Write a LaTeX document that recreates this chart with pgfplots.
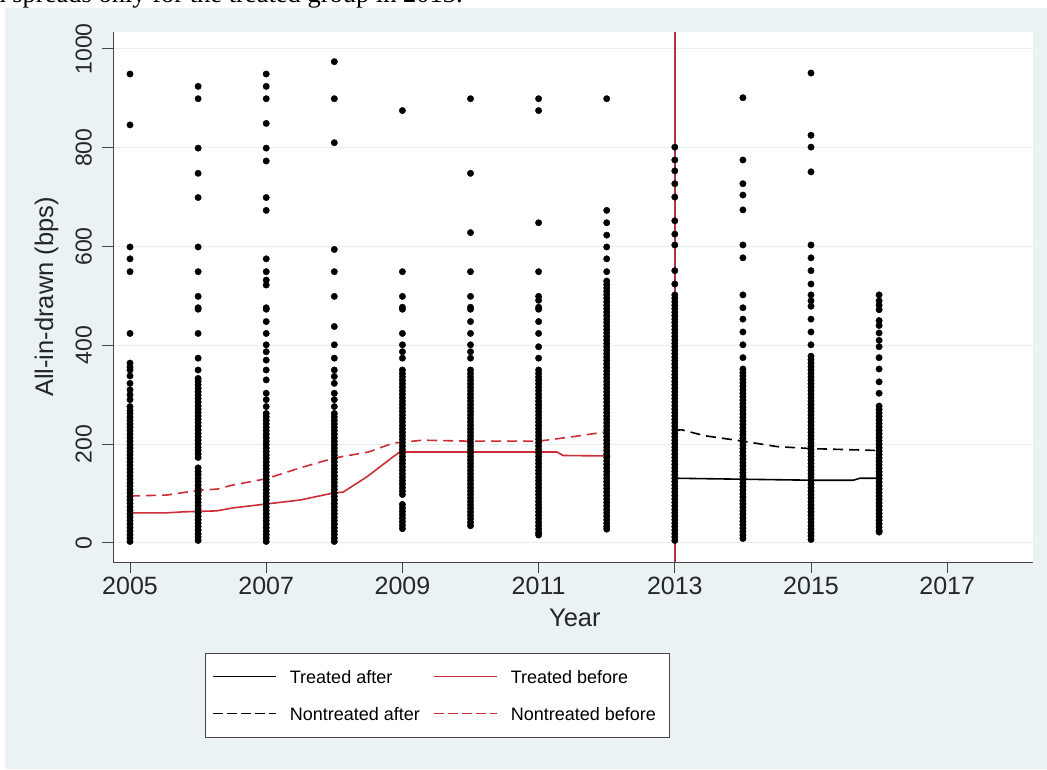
\documentclass[border=0pt]{standalone}
\usepackage{pgfplots}
\pgfplotsset{compat=1.18}
\usepackage{fontspec}
\setmainfont{Liberation Sans}
\newfontfamily\capserif{Liberation Serif}
\definecolor{bgc}{RGB}{234,242,243}
\definecolor{gridc}{RGB}{230,238,239}
\definecolor{redl}{RGB}{205,45,55}
\definecolor{vline}{RGB}{180,50,70}
\definecolor{axc}{RGB}{70,70,70}
\pgfplotsset{dots/.style={only marks, mark=*, mark size=3.2pt, color=black, mark options={draw=none, fill=black}, forget plot}}
\begin{document}
\begin{tikzpicture}
\useasboundingbox (0pt,0pt) rectangle (1047pt,769pt);
\fill[white] (0pt,0pt) rectangle (1047pt,769pt);
\fill[bgc] (5pt,0pt) rectangle (1047pt,761pt);
\begin{scope}
\clip (0pt,0pt) rectangle (1047pt,769pt);
\node[anchor=base east, font=\capserif\fontsize{26.5}{30}\selectfont, inner sep=0pt] at (463pt,766.5pt) {loan spreads only for the treated group in 2013.};
\end{scope}
\begin{axis}[
  at={(113pt,207pt)}, anchor=south west, scale only axis,
  width=920pt, height=530pt,
  xmin=2004.75, xmax=2018.26, ymin=-38.5, ymax=1034,
  axis lines*=left, axis line style={-, line width=1pt, axc},
  axis background/.style={fill=white},
  xtick={2005,2007,2009,2011,2013,2015,2017},
  ytick={0,200,400,600,800,1000},
  ymajorgrids, grid style={gridc, line width=1pt},
  tick align=outside, major tick length=11pt,
  tick style={axc, line width=1pt},
  /pgf/number format/1000 sep={},
  /pgf/number format/assume math mode=true,
  xticklabel style={font=\fontsize{25}{25}\selectfont, inner sep=4pt, text=black!85},
  yticklabel style={font=\fontsize{23}{23}\selectfont, rotate=90, anchor=south, inner xsep=0pt, inner ysep=10pt, text=black!85},
  label style={font=\fontsize{25.5}{25.5}\selectfont, text=black!85},
  xlabel={Year},
  xlabel style={at={(axis description cs:0.502,-0.1226)}, anchor=base},
  ylabel={All-in-drawn (bps)},
  ylabel style={at={(axis description cs:-0.0652,0.5)}, anchor=base},
  legend columns=2,
  legend cell align=left,
  legend style={at={(axis description cs:0.3527,-0.251)}, anchor=center,
    draw=axc, line width=0.9pt, fill=white,
    font=\fontsize{18}{18}\selectfont,
    inner xsep=7pt, inner ysep=17pt,
    nodes={inner xsep=6.5pt, inner ysep=0pt, text height=13pt, text depth=0pt},
    /tikz/every odd column/.append style={column sep=6.5pt},
    /tikz/every even column/.append style={column sep=7pt},
    row sep=24pt},
  legend image code/.code={\draw[#1] (0pt,0pt) -- (63pt,0pt);},
]
\addlegendimage{black, line width=1.3pt}
\addlegendentry{Treated after}
\addlegendimage{redl, line width=1.3pt}
\addlegendentry{Treated before}
\addlegendimage{black, line width=1.3pt, dash pattern=on 9.5pt off 4.5pt}
\addlegendentry{Nontreated after}
\addlegendimage{redl, line width=1.3pt, dash pattern=on 9.5pt off 4.5pt}
\addlegendentry{Nontreated before}

\addplot[vline, line width=1.4pt, forget plot] coordinates {(2013,-38.5) (2013,1034)};

% 2005
\addplot[dots] coordinates {(2005,949)(2005,846)(2005,599)(2005,575)(2005,549)(2005,424)(2005,364)(2005,356)(2005,350)(2005,338)(2005,323)(2005,310)(2005,300)(2005,290)(2005,276)(2005,268)(2005,262)(2005,255)(2005,248)(2005,241)(2005,234)(2005,227)(2005,220)(2005,213)(2005,206)(2005,199)(2005,192)(2005,185)(2005,178)(2005,171)(2005,164)(2005,157)(2005,150)(2005,143)(2005,136)(2005,129)(2005,122)(2005,115)(2005,108)(2005,101)(2005,94)(2005,87)(2005,80)(2005,73)(2005,66)(2005,59)(2005,52)(2005,45)(2005,38)(2005,31)(2005,24)(2005,17)(2005,10)(2005,3)};
% 2006
\addplot[dots] coordinates {(2006,924)(2006,899)(2006,799)(2006,748)(2006,699)(2006,599)(2006,549)(2006,499)(2006,476)(2006,473)(2006,424)(2006,374)(2006,350)(2006,333)(2006,327)(2006,320)(2006,313)(2006,306)(2006,299)(2006,292)(2006,285)(2006,278)(2006,271)(2006,264)(2006,257)(2006,250)(2006,243)(2006,236)(2006,229)(2006,222)(2006,215)(2006,208)(2006,201)(2006,194)(2006,187)(2006,180)(2006,173)(2006,152)(2006,145)(2006,138)(2006,131)(2006,124)(2006,117)(2006,110)(2006,103)(2006,96)(2006,89)(2006,82)(2006,75)(2006,68)(2006,61)(2006,54)(2006,47)(2006,40)(2006,33)(2006,26)(2006,19)(2006,12)(2006,5)};
% 2007
\addplot[dots] coordinates {(2007,949)(2007,924)(2007,899)(2007,849)(2007,799)(2007,773)(2007,699)(2007,673)(2007,575)(2007,549)(2007,532)(2007,522)(2007,476)(2007,473)(2007,448)(2007,424)(2007,401)(2007,387)(2007,370)(2007,350)(2007,330)(2007,303)(2007,290)(2007,276)(2007,262)(2007,255)(2007,248)(2007,241)(2007,234)(2007,227)(2007,220)(2007,213)(2007,206)(2007,199)(2007,192)(2007,185)(2007,178)(2007,171)(2007,164)(2007,157)(2007,150)(2007,143)(2007,136)(2007,129)(2007,122)(2007,115)(2007,108)(2007,101)(2007,94)(2007,87)(2007,80)(2007,73)(2007,66)(2007,59)(2007,52)(2007,45)(2007,38)(2007,31)(2007,24)(2007,17)(2007,10)(2007,3)};
% 2008
\addplot[dots] coordinates {(2008,974)(2008,899)(2008,810)(2008,594)(2008,549)(2008,499)(2008,438)(2008,401)(2008,374)(2008,350)(2008,337)(2008,323)(2008,303)(2008,290)(2008,276)(2008,262)(2008,255)(2008,248)(2008,241)(2008,234)(2008,227)(2008,220)(2008,213)(2008,206)(2008,199)(2008,192)(2008,185)(2008,178)(2008,171)(2008,164)(2008,157)(2008,150)(2008,143)(2008,136)(2008,129)(2008,122)(2008,115)(2008,108)(2008,101)(2008,94)(2008,87)(2008,80)(2008,73)(2008,66)(2008,59)(2008,52)(2008,45)(2008,38)(2008,31)(2008,24)(2008,17)(2008,10)(2008,3)};
% 2009
\addplot[dots] coordinates {(2009,875)(2009,549)(2009,499)(2009,477)(2009,473)(2009,424)(2009,401)(2009,387)(2009,374)(2009,350)(2009,343)(2009,336)(2009,329)(2009,322)(2009,315)(2009,308)(2009,301)(2009,294)(2009,287)(2009,280)(2009,273)(2009,266)(2009,259)(2009,252)(2009,245)(2009,238)(2009,231)(2009,224)(2009,217)(2009,210)(2009,203)(2009,196)(2009,189)(2009,182)(2009,175)(2009,168)(2009,161)(2009,154)(2009,147)(2009,140)(2009,133)(2009,126)(2009,119)(2009,112)(2009,105)(2009,98)(2009,78)(2009,71)(2009,64)(2009,57)(2009,50)(2009,43)(2009,36)(2009,29)};
% 2010
\addplot[dots] coordinates {(2010,899)(2010,748)(2010,628)(2010,549)(2010,499)(2010,477)(2010,473)(2010,448)(2010,424)(2010,401)(2010,387)(2010,374)(2010,350)(2010,343)(2010,336)(2010,329)(2010,322)(2010,315)(2010,308)(2010,301)(2010,294)(2010,287)(2010,280)(2010,273)(2010,266)(2010,259)(2010,252)(2010,245)(2010,238)(2010,231)(2010,224)(2010,217)(2010,210)(2010,203)(2010,196)(2010,189)(2010,182)(2010,175)(2010,168)(2010,161)(2010,154)(2010,147)(2010,140)(2010,133)(2010,126)(2010,119)(2010,112)(2010,105)(2010,98)(2010,91)(2010,84)(2010,77)(2010,70)(2010,63)(2010,56)(2010,49)(2010,42)(2010,35)};
% 2011
\addplot[dots] coordinates {(2011,899)(2011,875)(2011,648)(2011,549)(2011,499)(2011,491)(2011,477)(2011,473)(2011,448)(2011,424)(2011,397)(2011,374)(2011,350)(2011,343)(2011,336)(2011,329)(2011,322)(2011,315)(2011,308)(2011,301)(2011,294)(2011,287)(2011,280)(2011,273)(2011,266)(2011,259)(2011,252)(2011,245)(2011,238)(2011,231)(2011,224)(2011,217)(2011,210)(2011,203)(2011,196)(2011,189)(2011,182)(2011,175)(2011,168)(2011,161)(2011,154)(2011,147)(2011,140)(2011,133)(2011,126)(2011,119)(2011,112)(2011,105)(2011,98)(2011,91)(2011,84)(2011,77)(2011,70)(2011,63)(2011,56)(2011,49)(2011,42)(2011,35)(2011,28)(2011,21)(2011,16)};
% 2012
\addplot[dots] coordinates {(2012,899)(2012,673)(2012,648)(2012,623)(2012,599)(2012,575)(2012,549)(2012,530)(2012,523)(2012,516)(2012,509)(2012,502)(2012,495)(2012,488)(2012,481)(2012,474)(2012,467)(2012,460)(2012,453)(2012,446)(2012,439)(2012,432)(2012,425)(2012,418)(2012,411)(2012,404)(2012,397)(2012,390)(2012,383)(2012,376)(2012,369)(2012,362)(2012,355)(2012,348)(2012,341)(2012,334)(2012,327)(2012,320)(2012,313)(2012,306)(2012,299)(2012,292)(2012,285)(2012,278)(2012,271)(2012,264)(2012,257)(2012,250)(2012,243)(2012,236)(2012,229)(2012,222)(2012,215)(2012,208)(2012,201)(2012,194)(2012,187)(2012,180)(2012,173)(2012,166)(2012,159)(2012,152)(2012,145)(2012,138)(2012,131)(2012,124)(2012,117)(2012,110)(2012,103)(2012,96)(2012,89)(2012,82)(2012,75)(2012,68)(2012,61)(2012,54)(2012,47)(2012,40)(2012,33)(2012,28)};
% 2013
\addplot[dots] coordinates {(2013,801)(2013,775)(2013,753)(2013,727)(2013,700)(2013,652)(2013,625)(2013,603)(2013,551)(2013,524)(2013,502)(2013,495)(2013,488)(2013,481)(2013,474)(2013,467)(2013,460)(2013,453)(2013,446)(2013,439)(2013,432)(2013,425)(2013,418)(2013,411)(2013,404)(2013,397)(2013,390)(2013,383)(2013,376)(2013,369)(2013,362)(2013,355)(2013,348)(2013,341)(2013,334)(2013,327)(2013,320)(2013,313)(2013,306)(2013,299)(2013,292)(2013,285)(2013,278)(2013,271)(2013,264)(2013,257)(2013,250)(2013,243)(2013,236)(2013,229)(2013,222)(2013,215)(2013,208)(2013,201)(2013,194)(2013,187)(2013,180)(2013,173)(2013,166)(2013,159)(2013,152)(2013,145)(2013,138)(2013,131)(2013,124)(2013,117)(2013,110)(2013,103)(2013,96)(2013,89)(2013,82)(2013,75)(2013,68)(2013,61)(2013,54)(2013,47)(2013,40)(2013,33)(2013,26)(2013,19)(2013,12)(2013,5)};
% 2014
\addplot[dots] coordinates {(2014,901)(2014,775)(2014,727)(2014,704)(2014,674)(2014,603)(2014,577)(2014,502)(2014,476)(2014,453)(2014,427)(2014,401)(2014,375)(2014,352)(2014,345)(2014,338)(2014,331)(2014,324)(2014,317)(2014,310)(2014,303)(2014,296)(2014,289)(2014,282)(2014,275)(2014,268)(2014,261)(2014,254)(2014,247)(2014,240)(2014,233)(2014,226)(2014,219)(2014,212)(2014,205)(2014,198)(2014,191)(2014,184)(2014,177)(2014,170)(2014,163)(2014,156)(2014,149)(2014,142)(2014,135)(2014,128)(2014,121)(2014,114)(2014,107)(2014,100)(2014,93)(2014,86)(2014,79)(2014,72)(2014,65)(2014,58)(2014,51)(2014,44)(2014,37)(2014,30)(2014,23)(2014,16)(2014,9)};
% 2015
\addplot[dots] coordinates {(2015,951)(2015,825)(2015,801)(2015,751)(2015,603)(2015,577)(2015,551)(2015,524)(2015,502)(2015,490)(2015,479)(2015,453)(2015,427)(2015,401)(2015,378)(2015,371)(2015,364)(2015,357)(2015,350)(2015,343)(2015,336)(2015,329)(2015,322)(2015,315)(2015,308)(2015,301)(2015,294)(2015,287)(2015,280)(2015,273)(2015,266)(2015,259)(2015,252)(2015,245)(2015,238)(2015,231)(2015,224)(2015,217)(2015,210)(2015,203)(2015,196)(2015,189)(2015,182)(2015,175)(2015,168)(2015,161)(2015,154)(2015,147)(2015,140)(2015,133)(2015,126)(2015,119)(2015,112)(2015,105)(2015,98)(2015,91)(2015,84)(2015,77)(2015,70)(2015,63)(2015,56)(2015,49)(2015,42)(2015,35)(2015,28)(2015,21)(2015,14)(2015,7)};
% 2016
\addplot[dots] coordinates {(2016,502)(2016,490)(2016,481)(2016,472)(2016,450)(2016,440)(2016,425)(2016,410)(2016,397)(2016,375)(2016,352)(2016,326)(2016,303)(2016,277)(2016,270)(2016,263)(2016,256)(2016,249)(2016,242)(2016,235)(2016,228)(2016,221)(2016,214)(2016,207)(2016,200)(2016,193)(2016,186)(2016,179)(2016,172)(2016,165)(2016,158)(2016,151)(2016,144)(2016,137)(2016,130)(2016,123)(2016,116)(2016,109)(2016,102)(2016,95)(2016,88)(2016,81)(2016,74)(2016,67)(2016,60)(2016,53)(2016,46)(2016,39)(2016,32)(2016,25)(2016,22)};

% Treated before
\addplot[redl, line width=1.6pt, no marks, forget plot] coordinates {(2005,61)(2005.54,61)(2005.78,63)(2006.28,65)(2006.51,71)(2007.01,79)(2007.5,87)(2007.98,101)(2008.13,103)(2008.48,134)(2008.86,174)(2008.96,184)(2011.27,184)(2011.36,177)(2012.05,176)};
% Nontreated before
\addplot[redl, line width=1.6pt, no marks, dash pattern=on 10pt off 6pt, forget plot] coordinates {(2005,95)(2005.54,97)(2006.03,107)(2006.28,109)(2006.5,117)(2007,130)(2007.5,152)(2008,172)(2008.5,184)(2008.86,202)(2009.3,208)(2010,206)(2011,206)(2011.5,215)(2012,225)};
% Treated after
\addplot[black, line width=1.6pt, no marks, forget plot] coordinates {(2013,131)(2014,129)(2015,127)(2015.62,127)(2015.72,131)(2016,131)};
% Nontreated after
\addplot[black, line width=1.6pt, no marks, dash pattern=on 10pt off 6pt, forget plot] coordinates {(2013,228)(2013.1,229)(2013.44,217)(2014,206)(2014.5,195)(2015,191)(2015.5,189)(2016,187)};
\end{axis}
\end{tikzpicture}
\end{document}
